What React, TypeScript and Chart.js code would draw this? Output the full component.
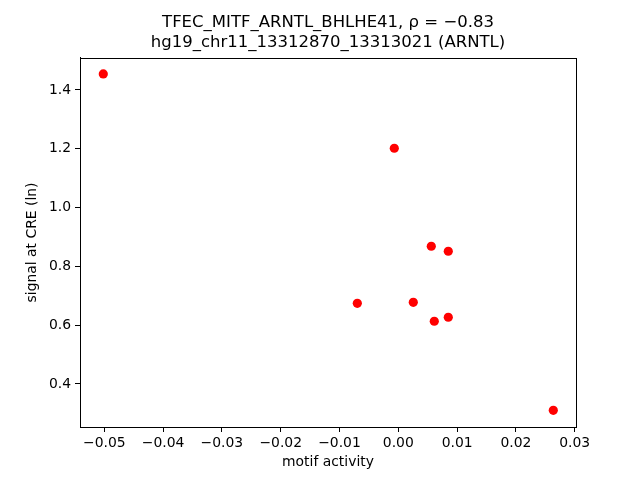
import React, { useEffect, useRef } from "react";
import { Chart, registerables } from "chart.js";

Chart.register(...registerables);

const MOTIF_ACTIVITY = [-0.05017, -0.00068, 0.00561, 0.0085, -0.00697, 0.00255, 0.00612, 0.0085, 0.02636];
const SIGNAL = [1.4544, 1.2017, 0.8684, 0.8514, 0.6745, 0.6779, 0.6133, 0.6269, 0.3105];
const X_TICKS = [-0.05, -0.04, -0.03, -0.02, -0.01, 0.0, 0.01, 0.02, 0.03];
const Y_TICKS = [0.4, 0.6, 0.8, 1.0, 1.2, 1.4];
const TITLE_LINES = ["TFEC_MITF_ARNTL_BHLHE41, ρ = −0.83", "hg19_chr11_13312870_13313021 (ARNTL)"];
const X_LABEL = "motif activity";
const Y_LABEL = "signal at CRE (ln)";

const FONT = "'DejaVu Sans', sans-serif";

const fmt = (v: number, d: number) => {
  const s = Math.abs(v).toFixed(d);
  return v < -1e-12 ? "\u2212" + s : s;
};

const frame = {
  id: "frame",
  afterDraw(chart: any) {
    const { ctx, chartArea } = chart;
    ctx.save();
    ctx.strokeStyle = "#000";
    ctx.lineWidth = 1;
    ctx.strokeRect(
      Math.round(chartArea.left) + 0.5,
      Math.round(chartArea.top) + 0.5,
      Math.round(chartArea.right - chartArea.left),
      Math.round(chartArea.bottom - chartArea.top)
    );
    ctx.restore();
  },
};

export default function App() {
  const ref = useRef<HTMLCanvasElement>(null);
  useEffect(() => {
    if (!ref.current) return;
    const data = MOTIF_ACTIVITY.map((x, i) => ({ x, y: SIGNAL[i] }));
    const chart = new Chart(ref.current, {
      type: "scatter",
      data: {
        datasets: [
          {
            data,
            backgroundColor: "#ff0000",
            borderWidth: 0,
            pointRadius: 4.6,
          },
        ],
      },
      options: {
        animation: false,
        responsive: false,
        layout: { padding: { left: 0, right: 64, top: 0, bottom: 0 } },
        plugins: {
          legend: { display: false },
          tooltip: { enabled: false },
          title: {
            display: true,
            fullSize: false,
            text: TITLE_LINES,
            color: "#000",
            font: { family: FONT, size: 16.5, weight: "normal", lineHeight: 1.26 },
            padding: { top: 12, bottom: 4.4 },
          },
        },
        scales: {
          x: {
            type: "linear",
            min: -0.05413,
            max: 0.03022,
            afterFit: (s: any) => {
              s.height = 53;
            },
            afterBuildTicks: (s: any) => {
              s.ticks = X_TICKS.map((v) => ({ value: v }));
            },
            ticks: {
              color: "#000",
              font: { family: FONT, size: 13.9 },
              padding: 3,
              maxRotation: 0,
              autoSkip: false,
              callback: (v: any) => fmt(Number(v), 2),
            },
            grid: { drawOnChartArea: false, drawTicks: true, tickLength: 5, color: "#000" },
            border: { display: true, color: "#000" },
            title: {
              display: true,
              text: X_LABEL,
              color: "#000",
              font: { family: FONT, size: 13.9, lineHeight: 1.2 },
              padding: { top: 0, bottom: 9.7 },
            },
          },
          y: {
            type: "linear",
            min: 0.2537,
            max: 1.5088,
            afterFit: (s: any) => {
              s.width = 80;
            },
            afterBuildTicks: (s: any) => {
              s.ticks = Y_TICKS.map((v) => ({ value: v }));
            },
            ticks: {
              color: "#000",
              font: { family: FONT, size: 13.9 },
              padding: 4,
              autoSkip: false,
              callback: (v: any) => fmt(Number(v), 1),
            },
            grid: { drawOnChartArea: false, drawTicks: true, tickLength: 5, color: "#000" },
            border: { display: true, color: "#000" },
            title: {
              display: true,
              text: Y_LABEL,
              color: "#000",
              font: { family: FONT, size: 13.9, lineHeight: 1.2 },
              padding: { top: 24.2, bottom: 0 },
            },
          },
        },
      },
      plugins: [frame],
    });
    return () => chart.destroy();
  }, []);
  return (
    <div style={{ position: "absolute", left: 0, top: 0, width: 640, height: 480, background: "#fff" }}>
      <canvas ref={ref} width={640} height={480} style={{ display: "block" }} />
    </div>
  );
}
